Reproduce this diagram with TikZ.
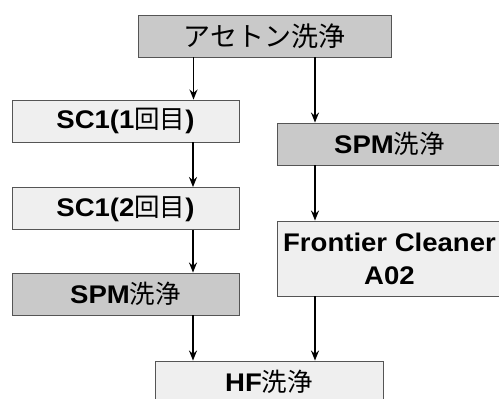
\documentclass[tikz,border=0pt]{standalone}
\usepackage{fontspec}
\setmainfont{Liberation Sans}[FakeStretch=1.08]
\newfontfamily\jpfont{Noto Sans CJK JP}
\newcommand{\jp}[1]{{\jpfont\mdseries #1}}
\usetikzlibrary{arrows.meta}
\definecolor{darkfill}{HTML}{C9C9C9}
\definecolor{lightfill}{HTML}{EFEFEF}
\definecolor{edge}{HTML}{555555}
\tikzset{
  box/.style={draw=edge, line width=0.9pt, minimum height=42pt, inner sep=0pt,
    font=\fontsize{25.5}{33}\selectfont\bfseries, align=center},
  dark/.style={box, fill=darkfill},
  light/.style={box, fill=lightfill},
  arr/.style={-{Stealth[length=10pt,width=8pt]}, line width=1.5pt, black}
}
\begin{document}
\begin{tikzpicture}[x=1pt,y=1pt]
\useasboundingbox (0,0) rectangle (499,399);
\clip (0,0) rectangle (499,399);
\fill[white] (0,0) rectangle (499,399);
\node[dark, minimum width=253pt, font=\fontsize{27}{30}\selectfont] (ac) at (264.5,363) {\jp{アセトン洗浄}};
\node[light, minimum width=227pt] (sc1) at (125.5,278) {SC1(1\jp{回目})};
\node[light, minimum width=227pt] (sc2) at (125.5,190.5) {SC1(2\jp{回目})};
\node[dark, minimum width=227pt] (spml) at (125.5,105) {SPM\jp{洗浄}};
\node[dark, minimum width=224pt] (spmr) at (389.5,255) {SPM\jp{洗浄}};
\node[light, minimum width=224pt, minimum height=75pt] (fc) at (389.5,140.5) {Frontier Cleaner\\A02};
\node[light, minimum width=228pt] (hf) at (269,17) {HF\jp{洗浄}};
\draw[arr] (ac.south -| sc1.north) ++(68,0) coordinate (a1) -- (a1 |- sc1.north);
\draw[arr] (ac.south) ++(50.5,0) coordinate (a2) -- (a2 |- spmr.north);
\draw[arr] (sc1.south) ++(67.5,0) coordinate (a3) -- (a3 |- sc2.north);
\draw[arr] (sc2.south) ++(67.5,0) coordinate (a4) -- (a4 |- spml.north);
\draw[arr] (spml.south) ++(67.5,0) coordinate (a5) -- (a5 |- hf.north);
\draw[arr] (spmr.south) ++(-74.5,0) coordinate (a6) -- (a6 |- fc.north);
\draw[arr] (fc.south) ++(-74.5,0) coordinate (a7) -- (a7 |- hf.north);
\end{tikzpicture}
\end{document}
